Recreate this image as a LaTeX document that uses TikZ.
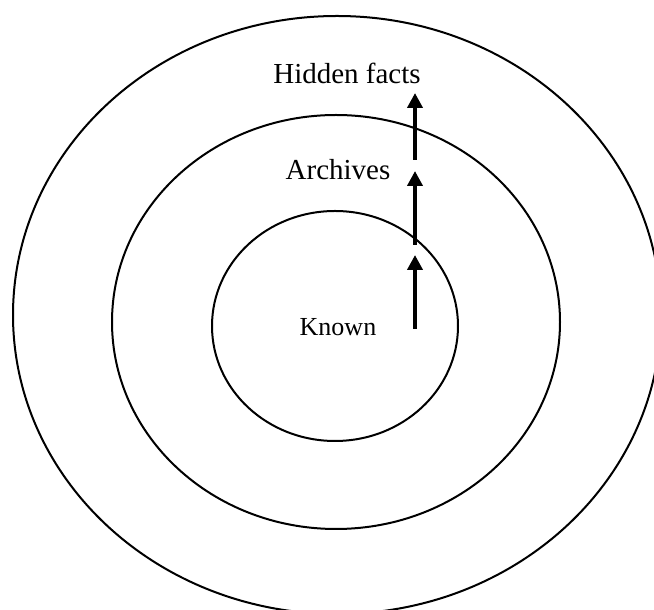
\documentclass[tikz,border=0pt]{standalone}
\usepackage{fontspec}
\setmainfont{Liberation Serif}
\usetikzlibrary{arrows.meta}
\tikzset{
	ring/.style={line width=1pt},
	step arrow/.style={line width=2pt,-{Triangle[length=7.5pt,width=7.5pt]}},
	lbl/.style={inner sep=0pt,font=\fontsize{14.5}{17}\selectfont}
}
\begin{document}
\begin{tikzpicture}[x=.5pt,y=.5pt]
	\useasboundingbox (0,0) rectangle (654,610);
	% rings
	\draw[ring] (337,295) ellipse [x radius=324,y radius=299];
	\draw[ring] (336,288) ellipse [x radius=224,y radius=207];
	\draw[ring] (335,284) ellipse [x radius=123,y radius=115];
	% labels
	\node[lbl] (hidden) at (347,537) {Hidden facts};
	\node[lbl] (archives) at (338,440) {Archives};
	\node[lbl,font=\fontsize{13}{16}\selectfont] (known) at (338,283) {Known};
	% arrows
	\coordinate (k0) at (415,281); \coordinate (k1) at (415,355);
	\coordinate (a0) at (415,365); \coordinate (a1) at (415,439);
	\coordinate (h0) at (415,450); \coordinate (h1) at (415,517);
	\draw[step arrow] (k0)--(k1);
	\draw[step arrow] (a0)--(a1);
	\draw[step arrow] (h0)--(h1);
\end{tikzpicture}
\end{document}
